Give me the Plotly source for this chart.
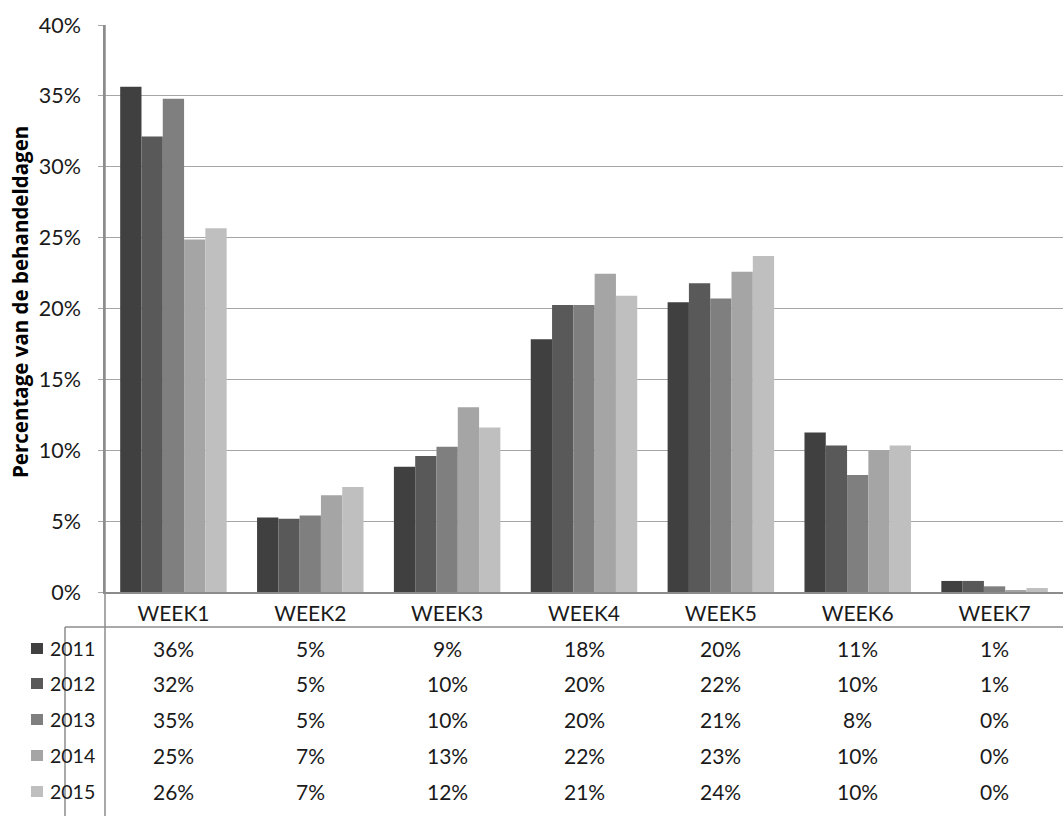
import plotly.graph_objects as go

# Share of treatment days per week, by year
weeks = ["WEEK1", "WEEK2", "WEEK3", "WEEK4", "WEEK5", "WEEK6", "WEEK7"]
years = ["2011", "2012", "2013", "2014", "2015"]

pct_2011 = [0.3565, 0.0525, 0.0884, 0.1783, 0.2044, 0.1126, 0.0078]
pct_2012 = [0.3213, 0.0517, 0.0959, 0.2025, 0.2178, 0.1034, 0.0078]
pct_2013 = [0.3480, 0.0539, 0.1025, 0.2025, 0.2070, 0.0825, 0.0040]
pct_2014 = [0.2486, 0.0682, 0.1304, 0.2245, 0.2260, 0.0999, 0.0012]
pct_2015 = [0.2566, 0.0740, 0.1161, 0.2090, 0.2370, 0.1034, 0.0028]

series = [pct_2011, pct_2012, pct_2013, pct_2014, pct_2015]
colors = ["#404040", "#595959", "#7f7f7f", "#a5a5a5", "#bfbfbf"]

y_ticks = [0, 0.05, 0.10, 0.15, 0.20, 0.25, 0.30, 0.35, 0.40]

W, H = 1063, 816
ML, MR, MT, MB = 105, 0, 25, 224
PW = W - ML - MR
PH = H - MT - MB
FONT = "Lato, Carlito, 'Open Sans', sans-serif"
FS = 21
TXT = "#1a1a1a"
LINE = "#8c8c8c"
GRID = "#a6a6a6"


def px_x(x):
    return (x - ML) / PW


def px_y(y):
    return (H - MB - y) / PH


fig = go.Figure()
for name, vals, col in zip(years, series, colors):
    fig.add_trace(go.Bar(
        x=weeks, y=vals, name=name,
        marker=dict(color=col, line=dict(width=0)),
        hoverinfo="skip",
    ))

fig.update_layout(
    width=W, height=H,
    margin=dict(l=ML, r=MR, t=MT, b=MB),
    paper_bgcolor="white", plot_bgcolor="white",
    barmode="group", bargap=0.222, bargroupgap=0,
    showlegend=False,
    font=dict(family=FONT, size=FS, color=TXT),
    xaxis=dict(
        type="category", showgrid=False, zeroline=False,
        showline=True, linecolor=LINE, linewidth=1.5,
        ticks="", tickfont=dict(size=FS, color=TXT),
        ticklabelstandoff=2, fixedrange=True,
    ),
    yaxis=dict(
        range=[0, 0.40], tickvals=y_ticks, tickformat=".0%",
        showgrid=True, gridcolor=GRID, gridwidth=1.2,
        zeroline=False, showline=True, linecolor=LINE, linewidth=1.5,
        ticks="outside", ticklen=5, tickcolor=GRID, tickwidth=1.2,
        ticklabelstandoff=13,
        tickfont=dict(size=21.5, color=TXT), fixedrange=True,
    ),
)

# Axis title
fig.add_annotation(
    text="<b>Percentage van de behandeldagen</b>",
    x=px_x(20), y=px_y(302), xref="paper", yref="paper",
    xanchor="center", yanchor="middle",
    textangle=-90, showarrow=False,
    font=dict(family="'Open Sans', sans-serif", size=20.5, color="#000000"),
)

# Data table frame: y axis continues down, line under week labels, left edge
table_top = 627
frame = [
    (0, 1, 0, px_y(H)),
    (px_x(65), px_y(table_top), 1, px_y(table_top)),
    (px_x(65), px_y(table_top), px_x(65), px_y(H)),
]
for x0, y0, x1, y1 in frame:
    fig.add_shape(type="path", xref="paper", yref="paper",
                  path=f"M {x0} {y0} L {x1} {y1}",
                  line=dict(color=LINE, width=1.5))

row_y = [648, 683, 719, 755, 791]
for name, vals, col, ry in zip(years, series, colors, row_y):
    # legend key
    fig.add_shape(type="rect", xref="paper", yref="paper",
                  x0=px_x(31), x1=px_x(43), y0=px_y(ry - 5), y1=px_y(ry + 6),
                  fillcolor=col, line=dict(width=0))
    fig.add_annotation(text=name, x=px_x(48), y=px_y(ry), xref="paper", yref="paper",
                       xanchor="left", yanchor="middle", showarrow=False,
                       font=dict(size=19.5, color=TXT))
    for wk, v in zip(weeks, vals):
        fig.add_annotation(text=f"{v:.0%}", x=wk, y=px_y(ry), xref="x", yref="paper",
                           xanchor="center", yanchor="middle", showarrow=False,
                           font=dict(size=FS, color=TXT))

fig.write_html("out.html", config={"displayModeBar": False})
